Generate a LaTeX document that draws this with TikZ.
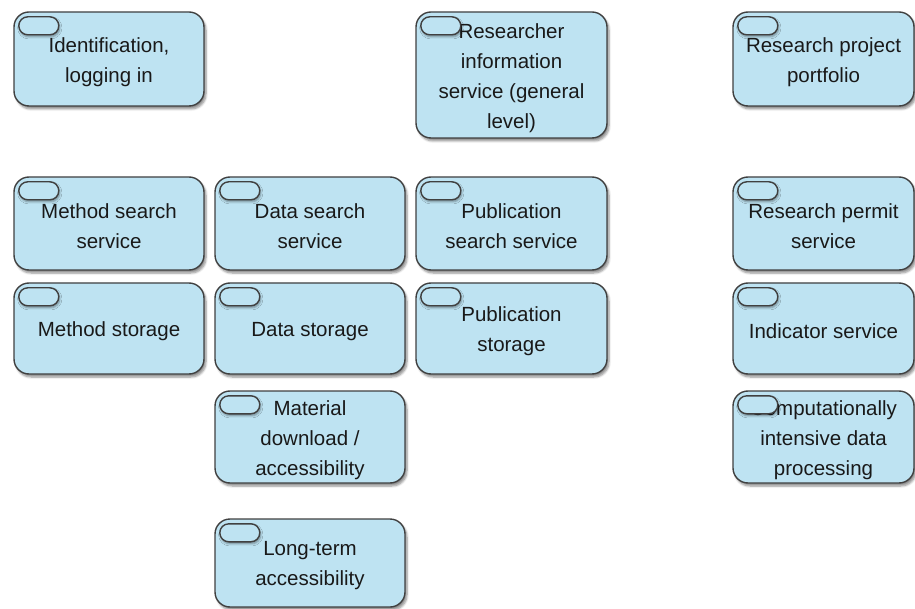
\documentclass[tikz,border=0pt]{standalone}
\usepackage{fontspec}
\setmainfont{Liberation Sans}
\usetikzlibrary{shadows.blur}
\definecolor{appfill}{RGB}{190,227,242}
\definecolor{appline}{RGB}{64,64,64}
\tikzset{
  svc/.style={draw=appline, line width=1.4pt, fill=appfill, rounded corners=15pt,
    blur shadow={shadow xshift=2pt, shadow yshift=-3pt, shadow blur steps=6, shadow opacity=45},
    inner sep=0pt},
  svctext/.style={align=center, font=\fontsize{20.5pt}{30pt}\selectfont, text=black!90, inner sep=0pt},
  svcicon/.style={draw=appline, line width=1.4pt, fill=appfill, rounded corners=9pt,
    blur shadow={shadow xshift=1pt, shadow yshift=-2pt, shadow blur steps=4, shadow opacity=40}}
}
% a service box from corner (x1,y1) to (x2,y2), y counted downward
\newcommand{\service}[6]{%
  \node[svc, minimum width={(#4-#2)*1pt}, minimum height={(#5-#3)*1pt}]
    (#1) at ({(#2+#4)/2}, {-(#3+#5)/2}) {};
  \node[svctext] (#1-label) at ([yshift=-3pt]#1.center) {#6};
  \draw[svcicon] ([xshift=5.5pt,yshift=-5.5pt]#1.north west) rectangle ++(40pt,-18pt);
}
\begin{document}
\begin{tikzpicture}[x=1pt, y=1pt]
\useasboundingbox (0,0) rectangle (915,-609);
\service{ident}{14}{12}{204}{106}{Identification,\\logging in}
\service{resinfo}{416}{12}{607}{138}{Researcher\\information\\service (general\\level)}
\service{portfolio}{733}{12}{914}{106}{Research project\\portfolio}
\service{methsearch}{14}{177}{204}{270}{Method search\\service}
\service{datasearch}{215}{177}{405}{270}{Data search\\service}
\service{pubsearch}{416}{177}{607}{270}{Publication\\search service}
\service{permit}{733}{177}{914}{270}{Research permit\\service}
\service{methstore}{14}{283}{204}{374}{Method storage}
\service{datastore}{215}{283}{405}{374}{Data storage}
\service{pubstore}{416}{283}{607}{374}{Publication\\storage}
\service{indicator}{733}{283}{914}{374}{Indicator service}
\service{download}{215}{391}{405}{483}{Material\\download /\\accessibility}
\service{compute}{733}{391}{914}{483}{Computationally\\intensive data\\processing}
\service{longterm}{215}{519}{405}{607}{Long-term\\accessibility}
\end{tikzpicture}
\end{document}
